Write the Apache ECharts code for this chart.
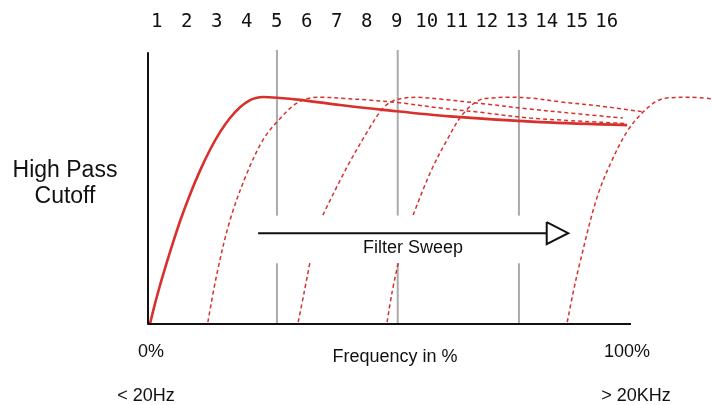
<!DOCTYPE html>
<html>
<head>
<meta charset="utf-8">
<script src="https://cdn.jsdelivr.net/npm/echarts@6/dist/echarts.min.js"></script>
<style>html,body{margin:0;padding:0;background:#fff}#c{width:712px;height:405px}</style>
</head>
<body>
<div id="c"></div>
<script>
// Top tick labels (filter steps)
const topLabels = ['1','2','3','4','5','6','7','8','9','10','11','12','13','14','15','16'];

// Frequency axis extent (0% .. 100%)
const freqExtent = [0, 100];

// Curves: [frequency %, level]
const curveSolid = [[0.41,0],[1.45,7.5],[2.48,14.2],[3.52,20.5],[4.55,26.5],[6.63,37.9],[8.7,47.8],[10.77,56.6],[12.84,64.3],[14.91,70.8],[16.98,76],[19.05,80],[21.12,82.6],[22.57,83.5],[23.81,83.75],[26.71,83.5],[31.5,82.7],[39.8,80.8],[48.7,79],[62.5,76.6],[81.2,74.5],[99.2,73.4]];
const curve2 = [[12.4,0.7],[14.3,18.8],[17,38.4],[20.5,55.7],[23.8,67.9],[26.7,74.5],[30.9,81.6],[35,83.65],[36.2,83.65],[40.8,83.2],[45.3,82.7],[52.2,81.6],[60.5,79.7],[69.8,77.9],[79.1,76],[98.8,74]];
const curve3Low = [[31.1,0.7],[32.3,11.4],[33.5,22.5]];
const curve3High = [[36.2,40.2],[41.2,57.9],[46,72.7],[48.7,79.7],[50.7,82.3],[53.2,83.4],[55.7,83.65],[60.5,83],[69.8,81.2],[79.1,79.3],[89.4,77.5],[98.3,76]];
const curve4Low = [[49.5,0.7],[50.5,11.4],[51.8,22.5]];
const curve4High = [[54.9,40.2],[58.4,55.7],[61.9,67.9],[65.2,77.5],[68.7,82.7],[71.4,83.4],[74.3,83.65],[79.1,83.4],[85.3,82],[93.6,80.4],[102.5,78.3]];
const curve5 = [[86.8,0.7],[88,11.4],[89.4,22.5],[93,46.9],[96.3,61.3],[99.4,71.6],[102.5,78.2],[105.4,82.3],[108.1,83.5],[112.2,83.65],[116.8,83.1]];

// Gray step markers (steps 5, 9, 13) with gap around the sweep arrow
const markerX = [26.7, 51.7, 76.8];
const markerGapLow = 22.4, markerGapHigh = 40.0, markerTop = 101.1;

// Sweep arrow
const arrowShaft = [[22.8,33.5],[82.55,33.5]];
const arrowHead = [[82.55,37.6],[87.0,33.5],[82.55,29.5],[82.55,37.6]];

const red = '#d8302c';
const series = [];
function curve(data, dashed){
  series.push({type:'line', data, smooth:0.35, symbol:'none', clip:false, silent:true,
    lineStyle:{color:red, width: dashed?1.5:2.6, type: dashed?[4,3]:'solid'}, z:3});
}
// bottom axis line
series.push({type:'line', data:[[freqExtent[0],0],[freqExtent[1],0]], symbol:'none', clip:false, silent:true, lineStyle:{color:'#111', width:2}, z:5});
markerX.forEach(x=>{
  series.push({type:'line', data:[[x,0],[x,markerGapLow]], symbol:'none', clip:false, silent:true, lineStyle:{color:'#aaaaaa', width:2}, z:2});
  series.push({type:'line', data:[[x,markerGapHigh],[x,markerTop]], symbol:'none', clip:false, silent:true, lineStyle:{color:'#aaaaaa', width:2}, z:2});
});
curve(curveSolid,false);
curve(curve2,true);
curve(curve3Low,true); curve(curve3High,true);
curve(curve4Low,true); curve(curve4High,true);
curve(curve5,true);
series.push({type:'line', data:arrowShaft, symbol:'none', clip:false, silent:true, lineStyle:{color:'#111', width:2}, z:4});
series.push({type:'line', data:arrowHead, symbol:'none', clip:false, silent:true, lineStyle:{color:'#111', width:2, join:'miter'}, z:4});

const txt = (text, x, y, size, family) => ({type:'text', x, y, style:{text, fill:'#111', font: size+'px '+(family||'"Liberation Sans", Arial, sans-serif'), textAlign:'center', textVerticalAlign:'middle'}});

const chart = echarts.init(document.getElementById('c'), null, {renderer:'canvas'});
chart.setOption({
  animation:false,
  backgroundColor:'#fff',
  grid:[{left:148, right:0, top:53, bottom:81},{left:141.7, right:90.3, top:53, height:10}],
  xAxis:[
    {gridIndex:0, type:'value', min:0, max:116.77, axisLine:{show:false}, axisTick:{show:false}, axisLabel:{show:false}, splitLine:{show:false}},
    {gridIndex:1, type:'category', position:'top', data:topLabels, boundaryGap:true, axisLine:{show:false}, axisTick:{show:false}, splitLine:{show:false},
      axisLabel:{interval:0, margin:21, fontFamily:'"DejaVu Sans Mono", monospace', fontSize:19, color:'#111'}}
  ],
  yAxis:[
    {gridIndex:0, type:'value', min:0, max:100, axisLine:{show:true, lineStyle:{color:'#111', width:2}}, axisTick:{show:false}, axisLabel:{show:false}, splitLine:{show:false}},
    {gridIndex:1, type:'value', show:false}
  ],
  series,
  graphic:[
    txt('High Pass', 65, 171, 23),
    txt('Cutoff', 65, 197, 23),
    txt('Filter Sweep', 413, 248, 18),
    txt('0%', 151, 352, 18),
    txt('Frequency in %', 395, 357, 18),
    txt('100%', 627, 352, 18),
    txt('< 20Hz', 146, 396, 18),
    txt('> 20KHz', 636, 396, 18)
  ]
});
</script>
</body>
</html>
